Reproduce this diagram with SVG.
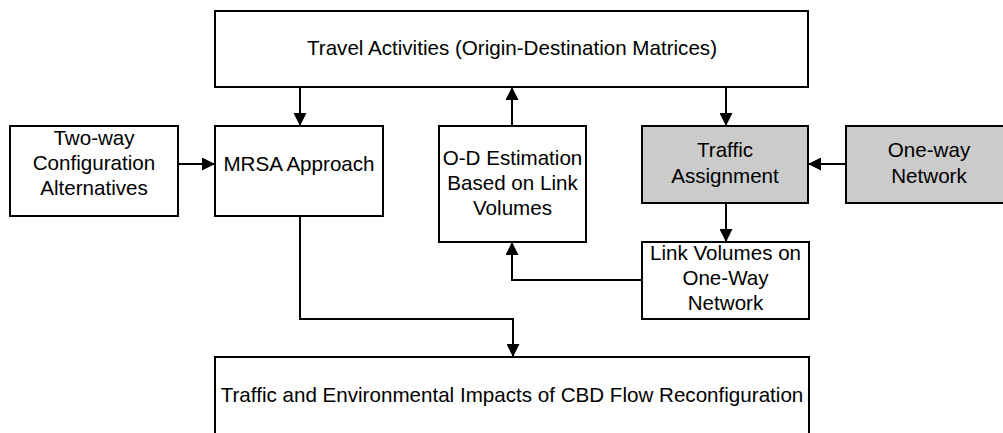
<svg xmlns="http://www.w3.org/2000/svg" width="1003" height="433" viewBox="0 0 1003 433">
<style>
.box{fill:#ffffff;stroke:#000;stroke-width:2}
.gray{fill:#cbcbcb;stroke:#000;stroke-width:2}
text{font-family:"Liberation Sans",Arial,sans-serif;font-size:20.6px;fill:#000;text-anchor:middle}
.c{fill:none;stroke:#000;stroke-width:2}
</style>
<defs>
<marker id="ah" markerUnits="userSpaceOnUse" markerWidth="13" markerHeight="13" refX="13" refY="6.5" orient="auto">
<path d="M0,0 L13,6.5 L0,13 z" fill="#000"/>
</marker>
</defs>
<rect width="1003" height="433" fill="#fff"/>
<g id="travel-activities">
<rect class="box" x="215" y="11" width="593" height="76"/>
<text x="512" y="55">Travel Activities (Origin-Destination Matrices)</text>
</g>
<g id="two-way">
<rect class="box" x="10" y="126" width="168" height="90"/>
<text x="94" y="145">Two-way</text>
<text x="94" y="170">Configuration</text>
<text x="94" y="195">Alternatives</text>
</g>
<g id="mrsa">
<rect class="box" x="215" y="126" width="168" height="90"/>
<text x="299" y="171">MRSA Approach</text>
</g>
<g id="od-estimation">
<rect class="box" x="439" y="126" width="147" height="116"/>
<text x="512.5" y="165">O-D Estimation</text>
<text x="512.5" y="190">Based on Link</text>
<text x="512.5" y="215">Volumes</text>
</g>
<g id="traffic-assignment">
<rect class="gray" x="642" y="126" width="166" height="77"/>
<text x="725" y="157">Traffic</text>
<text x="725" y="183">Assignment</text>
</g>
<g id="one-way-network">
<rect class="gray" x="846" y="126" width="170" height="77"/>
<text x="929" y="157">One-way</text>
<text x="929" y="183">Network</text>
</g>
<g id="link-volumes">
<rect class="box" x="642" y="242" width="167" height="77"/>
<text x="725.5" y="260">Link Volumes on</text>
<text x="725.5" y="285">One-Way</text>
<text x="725.5" y="310">Network</text>
</g>
<g id="impacts">
<rect class="box" x="215" y="357" width="594" height="80"/>
<text x="512" y="402">Traffic and Environmental Impacts of CBD Flow Reconfiguration</text>
</g>
<g id="connectors">
<line class="c" x1="300" y1="87" x2="300" y2="126" marker-end="url(#ah)"/>
<line class="c" x1="512" y1="126" x2="512" y2="87" marker-end="url(#ah)"/>
<line class="c" x1="726" y1="87" x2="726" y2="126" marker-end="url(#ah)"/>
<line class="c" x1="178" y1="164" x2="215" y2="164" marker-end="url(#ah)"/>
<line class="c" x1="846" y1="164" x2="808" y2="164" marker-end="url(#ah)"/>
<line class="c" x1="726" y1="203" x2="726" y2="242" marker-end="url(#ah)"/>
<polyline class="c" points="642,280 512,280 512,242" marker-end="url(#ah)"/>
<polyline class="c" points="300,216 300,319 513,319 513,357" marker-end="url(#ah)"/>
</g>
</svg>
